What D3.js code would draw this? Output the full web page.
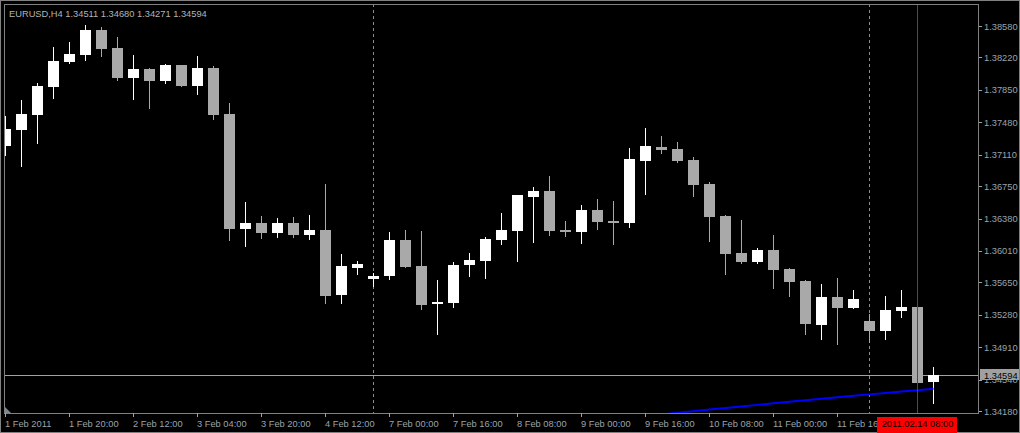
<!DOCTYPE html>
<html>
<head>
<meta charset="utf-8">
<script src="https://cdn.jsdelivr.net/npm/d3@7/dist/d3.min.js"></script>
<style>
  body { margin: 0; background: #000; overflow: hidden; }
  svg { display: block; }
</style>
</head>
<body>
<div id="chart"></div>
<script>
// H4 bars, index 0 = first visible bar
const opens = [1.37209, 1.37391, 1.37563, 1.37883, 1.38169, 1.38249, 1.38534, 1.38329, 1.37986, 1.38089,
  1.37951, 1.38134, 1.37894, 1.38100, 1.37574, 1.36260, 1.36329, 1.36214, 1.36329, 1.36191,
  1.36249, 1.35506, 1.35814, 1.35689, 1.35723, 1.36134, 1.35837, 1.35403, 1.35414, 1.35849,
  1.35894, 1.36134, 1.36237, 1.36626, 1.36694, 1.36249, 1.36226, 1.36477, 1.36351, 1.36329,
  1.37037, 1.37197, 1.37174, 1.37049, 1.36774, 1.36409, 1.35986, 1.35883, 1.36020, 1.35803,
  1.35666, 1.35163, 1.35483, 1.35357, 1.35209, 1.35094, 1.35323, 1.35369, 1.34511];
const highs = [1.37551, 1.37734, 1.37929, 1.38340, 1.38397, 1.38591, 1.38569, 1.38454, 1.38249, 1.38100,
  1.38146, 1.38134, 1.38237, 1.38123, 1.37700, 1.36569, 1.36409, 1.36386, 1.36397, 1.36420,
  1.36774, 1.35974, 1.35894, 1.35757, 1.36226, 1.36249, 1.36237, 1.35677, 1.35883, 1.35986,
  1.36169, 1.36443, 1.36649, 1.36740, 1.36866, 1.36351, 1.36534, 1.36603, 1.36580, 1.37186,
  1.37414, 1.37323, 1.37254, 1.37083, 1.36797, 1.36420, 1.36363, 1.36043, 1.36191, 1.35814,
  1.35677, 1.35631, 1.35700, 1.35563, 1.35289, 1.35494, 1.35563, 1.35369, 1.34680];
const lows = [1.37106, 1.36980, 1.37243, 1.37757, 1.38157, 1.38191, 1.38237, 1.37963, 1.37746, 1.37643,
  1.37929, 1.37894, 1.37803, 1.37517, 1.36134, 1.36066, 1.36157, 1.36169, 1.36169, 1.36146,
  1.35414, 1.35414, 1.35746, 1.35609, 1.35689, 1.35826, 1.35346, 1.35060, 1.35369, 1.35723,
  1.35700, 1.36089, 1.35894, 1.36111, 1.36191, 1.36180, 1.36100, 1.36260, 1.36089, 1.36283,
  1.36660, 1.37129, 1.37026, 1.36637, 1.36123, 1.35746, 1.35871, 1.35871, 1.35586, 1.35494,
  1.35060, 1.35003, 1.34946, 1.35357, 1.34969, 1.35003, 1.35254, 1.34490, 1.34271];
const closes = [1.37403, 1.37574, 1.37894, 1.38180, 1.38260, 1.38534, 1.38317, 1.37986, 1.38089, 1.37951,
  1.38134, 1.37894, 1.38100, 1.37563, 1.36260, 1.36329, 1.36214, 1.36329, 1.36191, 1.36249,
  1.35494, 1.35837, 1.35860, 1.35723, 1.36134, 1.35826, 1.35391, 1.35426, 1.35849, 1.35906,
  1.36146, 1.36249, 1.36649, 1.36694, 1.36237, 1.36226, 1.36477, 1.36340, 1.36329, 1.37060,
  1.37209, 1.37163, 1.37037, 1.36763, 1.36397, 1.35974, 1.35883, 1.36020, 1.35791, 1.35654,
  1.35174, 1.35483, 1.35357, 1.35460, 1.35094, 1.35334, 1.35369, 1.34505, 1.34594];

// indicator line (blue), starts at bar 41
const maStart = 41;
const maValues = [1.34140, 1.34160, 1.34178, 1.34196, 1.34214, 1.34232, 1.34250, 1.34268, 1.34286,
  1.34303, 1.34320, 1.34337, 1.34354, 1.34370, 1.34386, 1.34402, 1.34418, 1.34434];

const priceTicks = [1.38580, 1.38220, 1.37850, 1.37480, 1.37110, 1.36750, 1.36380, 1.36010,
  1.35650, 1.35280, 1.34910, 1.34540, 1.34180];

// one label every 4 bars
const timeLabels = ["1 Feb 2011", "1 Feb 20:00", "2 Feb 12:00", "3 Feb 04:00", "3 Feb 20:00",
  "4 Feb 12:00", "7 Feb 00:00", "7 Feb 16:00", "8 Feb 08:00", "9 Feb 00:00", "9 Feb 16:00",
  "10 Feb 08:00", "11 Feb 00:00", "11 Feb 16:00"];

const separatorBars = [23, 54];
const cursorBar = 57;
const cursorLabel = "2011.02.14 08:00";
const headerText = "EURUSD,H4  1.34511 1.34680 1.34271 1.34594";
const lastPrice = 1.34594;

const width = 1020;
const height = 433;
const plotLeft = 4, plotTop = 4, plotRight = 978, plotBottom = 413;

const bullColor = "#ffffff";
const bearColor = "#a9a9a9";
const fg = "#9ba3ab";
const fontSize = "9.3px";

const svg = d3.select("#chart")
  .append("svg")
  .attr("width", width)
  .attr("height", height)
  .style("font-family", "'Liberation Sans', Arial, sans-serif")
  .style("background", "#000");

const x = d3.scaleLinear().domain([0, 58]).range([5.5, 933.5]);
const y = d3.scaleLinear().domain([1.34180, 1.38580]).range([411, 26]);

// window frame
svg.append("rect").attr("x", 0.5).attr("y", 0.5).attr("width", width - 1).attr("height", height - 1)
  .attr("fill", "none").attr("stroke", "#808080");

svg.append("defs").append("clipPath").attr("id", "plot")
  .append("rect").attr("x", plotLeft + 1).attr("y", plotTop + 1)
  .attr("width", plotRight - plotLeft - 1).attr("height", plotBottom - plotTop - 1);

const plot = svg.append("g").attr("clip-path", "url(#plot)").attr("shape-rendering", "crispEdges");

// period separators
plot.selectAll("line.sep").data(separatorBars).join("line")
  .attr("class", "sep")
  .attr("x1", d => x(d)).attr("x2", d => x(d))
  .attr("y1", plotTop).attr("y2", plotBottom)
  .attr("stroke", "#8c8c8c").attr("stroke-dasharray", "3,3");

// bid line
plot.append("line")
  .attr("x1", plotLeft).attr("x2", plotRight)
  .attr("y1", Math.round(y(lastPrice)) + 0.5).attr("y2", Math.round(y(lastPrice)) + 0.5)
  .attr("stroke", fg);

// candles
const bars = d3.range(opens.length).map(i => ({
  i, o: opens[i], h: highs[i], l: lows[i], c: closes[i]
}));

const candle = plot.selectAll("g.candle").data(bars).join("g").attr("class", "candle");

candle.append("line")
  .attr("x1", d => x(d.i)).attr("x2", d => x(d.i))
  .attr("y1", d => Math.round(y(d.h))).attr("y2", d => Math.round(y(d.l)) + 1)
  .attr("stroke", d => d.c >= d.o ? bullColor : bearColor);

candle.append("rect")
  .attr("x", d => x(d.i) - 5.5)
  .attr("width", 11)
  .attr("y", d => Math.round(y(Math.max(d.o, d.c))))
  .attr("height", d => Math.max(1, Math.round(y(Math.min(d.o, d.c))) - Math.round(y(Math.max(d.o, d.c)))))
  .attr("fill", d => d.c >= d.o ? bullColor : bearColor);

// indicator
const maLine = d3.line()
  .x((d, k) => x(maStart + k))
  .y(d => y(d));
plot.append("path")
  .datum(maValues)
  .attr("d", maLine)
  .attr("fill", "none")
  .attr("stroke", "#0000ff")
  .attr("stroke-width", 2)
  .attr("shape-rendering", "auto");

// cursor line
plot.append("line")
  .attr("x1", x(cursorBar)).attr("x2", x(cursorBar))
  .attr("y1", plotTop).attr("y2", plotBottom)
  .attr("stroke", "#ff0000");

// chart shift marker
svg.append("path")
  .attr("d", `M5,407 L5,413 L11,413 Z`)
  .attr("fill", "#7a8794");

// plot border
svg.append("rect")
  .attr("x", plotLeft + 0.5).attr("y", plotTop + 0.5)
  .attr("width", plotRight - plotLeft).attr("height", plotBottom - plotTop)
  .attr("fill", "none").attr("stroke", "#808080")
  .attr("shape-rendering", "crispEdges");

// price axis
const yAxis = svg.append("g").attr("shape-rendering", "crispEdges");
yAxis.selectAll("line").data(priceTicks).join("line")
  .attr("x1", plotRight + 1).attr("x2", plotRight + 4)
  .attr("y1", d => Math.round(y(d)) + 0.5).attr("y2", d => Math.round(y(d)) + 0.5)
  .attr("stroke", fg);
yAxis.selectAll("text").data(priceTicks).join("text")
  .attr("x", plotRight + 6)
  .attr("y", d => y(d) + 3.5)
  .attr("fill", fg)
  .style("font-size", fontSize)
  .text(d => d.toFixed(5));

// last price label
const ly = Math.round(y(lastPrice));
svg.append("rect")
  .attr("x", plotRight + 2).attr("y", ly - 6)
  .attr("width", width - plotRight - 3).attr("height", 11)
  .attr("fill", "#a0a0a0");
svg.append("text")
  .attr("x", plotRight + 6).attr("y", ly + 4)
  .attr("fill", "#000")
  .style("font-size", fontSize)
  .text(lastPrice.toFixed(5));

// time axis
const xAxis = svg.append("g").attr("shape-rendering", "crispEdges");
xAxis.selectAll("line").data(timeLabels).join("line")
  .attr("x1", (d, k) => x(k * 4)).attr("x2", (d, k) => x(k * 4))
  .attr("y1", plotBottom).attr("y2", plotBottom + 4)
  .attr("stroke", fg);
xAxis.selectAll("text").data(timeLabels).join("text")
  .attr("x", (d, k) => x(k * 4) - 0.5)
  .attr("y", plotBottom + 13.5)
  .attr("fill", fg)
  .style("font-size", fontSize)
  .text(d => d);

// cursor time label
const cx = x(cursorBar);
svg.append("rect")
  .attr("x", Math.round(cx) - 40).attr("y", plotBottom + 4)
  .attr("width", 80).attr("height", 16)
  .attr("fill", "#ff0000");
svg.append("text")
  .attr("x", cx).attr("y", plotBottom + 13.5)
  .attr("text-anchor", "middle")
  .attr("fill", "#000")
  .style("font-size", fontSize)
  .text(cursorLabel);

// header
svg.append("text")
  .attr("x", 9).attr("y", 16.5)
  .attr("fill", "#b4b4b4")
  .style("font-size", fontSize)
  .text(headerText);
</script>
</body>
</html>
